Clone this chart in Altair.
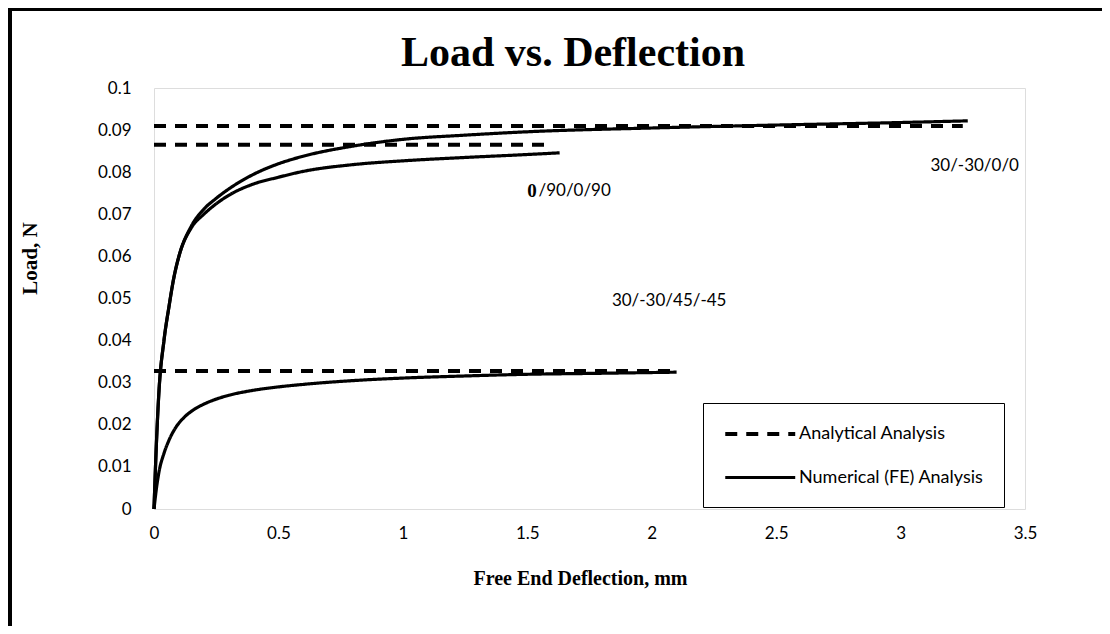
import altair as alt
import pandas as pd

# ---------------- data ----------------
# Numerical (FE) curves
a_x = [0, 0.01, 0.02, 0.04, 0.06, 0.08, 0.1, 0.15, 0.2, 0.25, 0.3, 0.4, 0.5, 0.6, 0.8, 1.0, 1.25, 1.5, 2.0, 2.5, 3.0, 3.27]
a_y = [0, 0.016, 0.028, 0.040, 0.048, 0.055, 0.060, 0.0672, 0.0712, 0.0738, 0.0760, 0.0795, 0.0820, 0.0838, 0.0862,
       0.0878, 0.0888, 0.0896, 0.0905, 0.0912, 0.0918, 0.0922]

b_x = [0, 0.01, 0.02, 0.04, 0.06, 0.08, 0.1, 0.15, 0.2, 0.25, 0.3, 0.4, 0.5, 0.6, 0.8, 1.0, 1.25, 1.5, 1.63]
b_y = [0, 0.016, 0.028, 0.040, 0.048, 0.055, 0.060, 0.0668, 0.0700, 0.0725, 0.0745, 0.0772, 0.0788, 0.0802, 0.0818,
       0.0827, 0.0835, 0.0842, 0.0846]

c_x = [0, 0.01, 0.02, 0.04, 0.06, 0.09, 0.12, 0.16, 0.2, 0.25, 0.3, 0.4, 0.5, 0.6, 0.8, 1.0, 1.25, 1.5, 1.75, 2.1]
c_y = [0, 0.0050, 0.0088, 0.0132, 0.0163, 0.0196, 0.0217, 0.0236, 0.0249, 0.0261, 0.0270, 0.0282, 0.0290, 0.0296,
       0.0305, 0.0311, 0.0316, 0.0320, 0.0322, 0.0325]

# Analytical results (constant load levels) and where each dashed line ends
ana_names = ["30/-30/0/0", "0/90/0/90", "30/-30/45/-45"]
ana_load = [0.091, 0.0865, 0.0328]
ana_end = [3.25, 1.6, 2.1]

# labels for the laminates
lab_text = ["30/-30/0/0", "/90/0/90", "30/-30/45/-45"]
lab_x = [3.12, 1.545, 1.84]
lab_y = [0.0815, 0.0755, 0.0494]
bold_text = ["0"]
bold_x = [1.50]
bold_y = [0.0755]

title_text = ["Load vs. Deflection"]

x_ticks = [0, 0.5, 1, 1.5, 2, 2.5, 3, 3.5]
y_ticks = [0, 0.01, 0.02, 0.03, 0.04, 0.05, 0.06, 0.07, 0.08, 0.09, 0.1]

KIND_A = "Analytical Analysis"
KIND_N = "Numerical (FE) Analysis"

rows = []
for name, xs_, ys_ in [("N 30/-30/0/0", a_x, a_y), ("N 0/90/0/90", b_x, b_y), ("N 30/-30/45/-45", c_x, c_y)]:
    for i, (xv, yv) in enumerate(zip(xs_, ys_)):
        rows.append({"x": xv, "y": yv, "series": name, "kind": KIND_N, "o": i})
for name, lv, xe in zip(ana_names, ana_load, ana_end):
    rows.append({"x": 0, "y": lv, "series": "A " + name, "kind": KIND_A, "o": 0})
    rows.append({"x": xe, "y": lv, "series": "A " + name, "kind": KIND_A, "o": 1})
df = pd.DataFrame(rows)

labels = pd.DataFrame({"x": lab_x, "y": lab_y, "t": lab_text})
bold = pd.DataFrame({"x": bold_x, "y": bold_y, "t": bold_text})
ttl = pd.DataFrame({"t": title_text})

W, H = 871, 421
LBL_FONT = "Lato"
SERIF = "Liberation Serif"

xs = alt.Scale(domain=[0, 3.5], nice=False)
ys = alt.Scale(domain=[0, 0.1], nice=False)

lines = alt.Chart(df).mark_line(color="black", clip=False, interpolate="monotone").encode(
    x=alt.X("x:Q", scale=xs, axis=alt.Axis(
        values=x_ticks, format="~g", title="Free End Deflection, mm", grid=False, ticks=False, domain=False,
        labelFont=LBL_FONT, labelFontSize=17, labelColor="black", labelPadding=16, labelFlush=False,
        titleFont=SERIF, titleFontSize=20, titleFontWeight="bold", titleColor="black",
        titleX=426, titleY=75, titleBaseline="alphabetic")),
    y=alt.Y("y:Q", scale=ys, axis=alt.Axis(
        values=y_ticks, format="~g", title="Load, N", grid=False, ticks=False, domain=False,
        labelFont=LBL_FONT, labelFontSize=17, labelColor="black", labelPadding=23,
        titleFont=SERIF, titleFontSize=21, titleFontWeight="bold", titleColor="black",
        titleX=-118, titleY=170, titleAngle=-90, titleBaseline="alphabetic", titleAlign="center")),
    detail="series:N",
    order="o:Q",
    strokeWidth=alt.StrokeWidth("kind:N", scale=alt.Scale(domain=[KIND_A, KIND_N], range=[4, 3.2]), legend=None),
    strokeDash=alt.StrokeDash("kind:N", scale=alt.Scale(domain=[KIND_A, KIND_N], range=[[12, 9], [1, 0]]),
                              legend=alt.Legend(title=None, orient="none", legendX=549, legendY=315,
                                                symbolType="M-1,0H7", symbolSize=306, symbolStrokeWidth=3.5,
                                                symbolStrokeColor="black", symbolFillColor="black",
                                                labelFont=LBL_FONT, labelFontSize=18, labelLimit=0,
                                                labelColor="black", labelOffset=54, rowPadding=24, padding=20,
                                                strokeColor="black", fillColor="white", cornerRadius=0)),
)

txt = alt.Chart(labels).mark_text(font=LBL_FONT, fontSize=17, align="left", baseline="middle", color="black").encode(
    x=alt.X("x:Q", scale=xs), y=alt.Y("y:Q", scale=ys), text="t:N")
txt_bold = alt.Chart(bold).mark_text(font=SERIF, fontSize=19, fontWeight="bold", align="left", baseline="middle",
                                     color="black").encode(
    x=alt.X("x:Q", scale=xs), y=alt.Y("y:Q", scale=ys), text="t:N")

title = alt.Chart(ttl).mark_text(font=SERIF, fontSize=42, fontWeight="bold", align="center",
                                 baseline="alphabetic", color="black").encode(
    x=alt.value(419), y=alt.value(-22), text="t:N")

# outer frame (decorative thick black border at left and top)
frame_left = alt.Chart(ttl).mark_rule(color="black", strokeWidth=4).encode(
    x=alt.value(-144), y=alt.value(-80), y2=alt.value(H + 200))
frame_top = alt.Chart(ttl).mark_rule(color="black", strokeWidth=4).encode(
    x=alt.value(-146), x2=alt.value(W + 200), y=alt.value(-79))

chart = alt.layer(lines, txt, txt_bold, title, frame_left, frame_top).properties(
    width=W, height=H,
    autosize=alt.AutoSizeParams(type="none"),
    padding={"left": 146, "top": 80, "right": 77, "bottom": 117},
).configure_view(stroke="#868686", strokeWidth=1.5).configure(background="white")

chart.save("out.html", embed_options={"renderer": "svg", "actions": False})
